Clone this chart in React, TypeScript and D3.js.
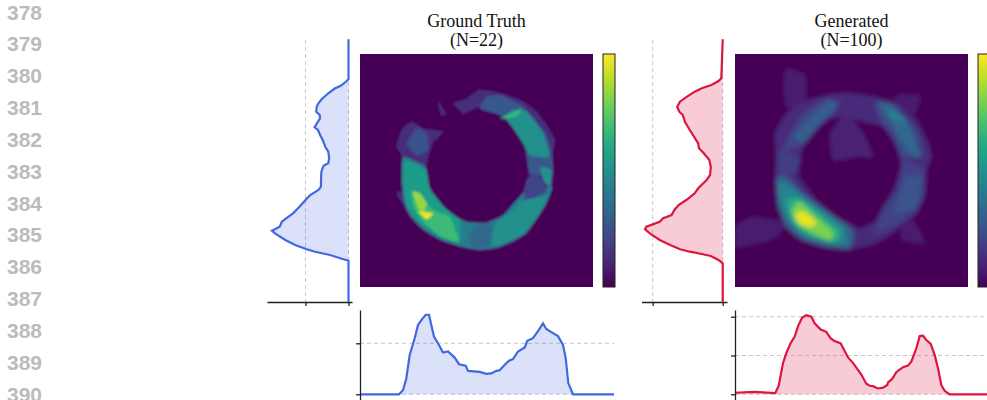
import React, { useEffect, useRef } from "react";
import * as d3 from "d3";

const W = 987;
const H = 400;

const rowLabels = [378, 379, 380, 381, 382, 383, 384, 385, 386, 387, 388, 389, 390];

const titles = [
  ["Ground Truth", "(N=22)"],
  ["Generated", "(N=100)"],
];

// [row, mean intensity]
const gtRowProfile: [number, number][] = [
  [-14.7, 0], [25, 0], [27, 0.04], [32, 0.19], [34.3, 0.31], [39.3, 0.47], [45, 0.62], [49.3, 0.7],
  [52.7, 0.74], [57.7, 0.75], [61, 0.67], [64.3, 0.66], [67.7, 0.71], [73.3, 0.79], [76, 0.71], [81, 0.66],
  [86, 0.6], [92.7, 0.54], [97.7, 0.47], [104.3, 0.45], [109.3, 0.47], [111.7, 0.58], [117.7, 0.63], [126, 0.64],
  [132.7, 0.64], [136, 0.7], [141, 0.89], [146, 1.0], [152.7, 1.14], [159.3, 1.29], [164.3, 1.45], [167.7, 1.55],
  [172.7, 1.6], [176.7, 1.78], [179.3, 1.71], [186, 1.47], [191, 1.24], [195.3, 0.97], [197.7, 0.78], [201, 0.43],
  [204.3, 0.19], [206.7, 0], [247.7, 0],
];

const genRowProfile: [number, number][] = [
  [-14.7, 0], [6, 0.01], [24.3, 0.02], [27, 0.06], [31, 0.16], [34.3, 0.3], [37.7, 0.4], [42.7, 0.51],
  [47.7, 0.61], [52.7, 0.65], [57.7, 0.62], [61, 0.57], [67.7, 0.54], [76, 0.47], [82.7, 0.41], [89.3, 0.35],
  [94.3, 0.34], [99.3, 0.27], [106, 0.19], [112.7, 0.17], [121, 0.18], [126, 0.23], [134.3, 0.35], [139.3, 0.4],
  [146, 0.52], [151, 0.63], [156, 0.69], [161, 0.73], [164.3, 0.85], [167.7, 0.9], [172.7, 1.09], [175.3, 1.11],
  [179.3, 1.04], [186, 0.9], [191, 0.75], [195.3, 0.61], [197.7, 0.47], [200, 0.3], [202, 0.17], [206, 0.06],
  [209.3, 0], [247.7, 0],
];

// [column, mean intensity]
const gtColProfile: [number, number][] = [
  [0, 0], [39, 0], [43, 0.08], [46.3, 0.31], [49.7, 0.77], [54.7, 1.1], [58, 1.36], [62.3, 1.48],
  [65.7, 1.56], [69, 1.56], [71.3, 1.36], [74, 1.13], [78, 1.0], [83, 0.82], [88, 0.84], [94.7, 0.72],
  [99, 0.59], [105.7, 0.56], [108, 0.46], [119.7, 0.44], [126.3, 0.4], [131.3, 0.41], [136.3, 0.46], [139.7, 0.47],
  [144.7, 0.58], [149, 0.66], [153, 0.69], [158, 0.84], [164.7, 0.92], [167.3, 1.05], [173, 1.1], [178, 1.24],
  [183, 1.39], [186.3, 1.28], [191.3, 1.22], [198, 1.14], [203, 0.97], [205.7, 0.71], [208.3, 0.22], [213, 0],
  [254, 0],
];

const genColProfile: [number, number][] = [
  [0, 0.04], [19.7, 0.06], [40.3, 0.03], [43.7, 0.22], [48, 0.8], [51.3, 1.06], [55.7, 1.32], [59.7, 1.49],
  [63, 1.75], [67, 1.97], [71.3, 2.04], [76.3, 2.0], [79.7, 1.83], [85.7, 1.67], [91.3, 1.61], [95.7, 1.44],
  [99, 1.38], [105.7, 1.31], [113, 0.95], [118, 0.81], [126.3, 0.51], [131.3, 0.27], [134.7, 0.22], [138, 0.21],
  [143, 0.15], [148, 0.17], [152.3, 0.24], [153, 0.31], [157, 0.39], [161.3, 0.57], [168, 0.7], [173, 0.74],
  [176.3, 0.84], [181.3, 1.18], [184.7, 1.5], [188, 1.51], [191.3, 1.4], [195.7, 1.3], [199.7, 1.01], [203, 0.67],
  [206.3, 0.24], [209.7, 0.09], [214.7, 0], [254, 0],
];

// ground truth density: stacked flat regions, [level, outline]
const gtRegions: [number, number[][]][] = [
  [0.13, [[655, 270], [690, 272], [740, 285], [790, 305], [830, 335], [860, 375], [885, 420], [878, 460], [880, 530], [875, 570], [860, 610], [830, 660], [800, 700], [760, 725], [710, 745], [660, 750], [600, 740], [540, 720], [490, 690], [450, 650], [415, 590], [412, 575], [430, 570], [428, 500], [425, 465], [410, 440], [425, 390], [455, 365], [490, 385], [550, 395], [520, 425], [505, 470], [497, 510], [505, 555], [530, 600], [570, 640], [620, 665], [680, 665], [730, 645], [770, 610], [790, 570], [805, 530], [808, 490], [795, 440], [770, 390], [730, 340], [690, 320], [650, 322], [610, 340], [580, 310], [620, 295]]],
  [0.13, [[535, 298], [545, 320], [560, 340], [545, 345], [538, 325]]],
  [0.27, [[660, 325], [680, 290], [720, 285], [790, 320], [850, 390], [872, 440], [878, 520], [810, 520], [795, 440], [760, 380], [720, 345]]],
  [0.25, [[470, 385], [500, 400], [505, 450], [470, 465], [440, 430]]],
  [0.42, [[430, 470], [497, 500], [510, 565], [570, 640], [620, 665], [680, 668], [730, 645], [790, 580], [875, 560], [858, 610], [830, 655], [798, 698], [758, 722], [710, 742], [660, 748], [600, 738], [540, 717], [490, 687], [452, 648], [432, 600], [425, 540]]],
  [0.5, [[735, 350], [760, 330], [800, 335], [850, 400], [868, 470], [810, 465], [790, 430], [760, 385]]],
  [0.33, [[660, 670], [695, 672], [690, 735], [640, 745], [625, 705]]],
  [0.2, [[800, 540], [830, 520], [862, 570], [830, 590], [792, 600]]],
  [0.55, [[435, 480], [495, 510], [510, 570], [550, 620], [600, 660], [598, 725], [540, 710], [480, 670], [440, 620], [430, 550]]],
  [0.5, [[700, 690], [710, 665], [750, 640], [790, 600], [860, 590], [838, 640], [790, 700], [730, 730], [695, 735]]],
  [0.5, [[840, 500], [875, 510], [870, 560], [850, 540]]],
  [0.68, [[455, 575], [480, 580], [510, 620], [540, 640], [570, 650], [598, 725], [545, 710], [490, 665], [460, 620]]],
  [0.66, [[720, 355], [785, 325], [770, 350]]],
  [0.84, [[458, 575], [480, 580], [500, 610], [490, 635], [475, 625]]],
  [0.98, [[475, 633], [520, 640], [500, 657]]],
];

// generated density: stray shapes, the ring body, then brighter patches on top
const genRegions: [number, number[][]][] = [
  [0.08, [[470, 205], [525, 225], [530, 300], [520, 340], [470, 320], [460, 250]]],
  [0.08, [[318, 675], [370, 650], [440, 660], [470, 670], [440, 710], [400, 725], [318, 740]]],
  [0.08, [[810, 680], [850, 660], [885, 730], [820, 720]]],
  [0.09, [[600, 400], [650, 340], [700, 400], [730, 470], [680, 470], [610, 480]]],
  [0.08, [[790, 290], [870, 285], [860, 330], [830, 360]]],
  [0.12, [[600, 285], [660, 280], [730, 290], [800, 310], [860, 360], [890, 420], [905, 470], [885, 520], [885, 580], [860, 640], [810, 680], [770, 710], [720, 735], [660, 745], [590, 740], [520, 720], [470, 680], [445, 620], [435, 550], [440, 470], [435, 400], [470, 340], [520, 305], [600, 285], [600, 350], [555, 395], [520, 440], [510, 470], [500, 520], [560, 600], [620, 650], [690, 685], [740, 660], [770, 610], [795, 560], [815, 500], [800, 440], [760, 380], [700, 365], [650, 350], [600, 350]]],
  [0.2, [[480, 400], [520, 340], [580, 300], [630, 300], [610, 345], [560, 380], [510, 440], [460, 450]]],
  [0.18, [[445, 450], [510, 470], [500, 520], [445, 520]]],
  [0.22, [[735, 305], [790, 310], [860, 390], [880, 470], [815, 470], [790, 410], [750, 360]]],
  [0.19, [[820, 480], [885, 510], [880, 590], [850, 640], [790, 680], [730, 700], [760, 620], [800, 570]]],
  [0.29, [[490, 410], [540, 350], [600, 300], [620, 320], [570, 370], [520, 430]]],
  [0.33, [[745, 310], [790, 320], [840, 380], [870, 470], [830, 450], [790, 380]]],
  [0.44, [[770, 330], [810, 345], [830, 365], [790, 360]]],
  [0.26, [[830, 530], [875, 530], [860, 620], [790, 640]]],
  [0.32, [[440, 530], [470, 530], [520, 580], [600, 640], [670, 690], [660, 745], [590, 740], [520, 720], [470, 680], [445, 620]]],
  [0.45, [[445, 545], [480, 560], [560, 620], [640, 680], [650, 730], [590, 730], [520, 705], [475, 660], [450, 610]]],
  [0.62, [[470, 600], [510, 595], [570, 640], [630, 690], [620, 725], [560, 715], [510, 690], [480, 650]]],
  [0.8, [[485, 630], [510, 605], [560, 650], [610, 695], [600, 722], [550, 700], [500, 670]]],
  [0.97, [[497, 640], [525, 635], [560, 670], [535, 680], [505, 665]]],
];

const colorLevels = [0, 0.1, 0.2, 0.3, 0.4, 0.5, 0.6, 0.7, 0.8, 0.9, 1];

const BLUE = "#4169e1";
const RED = "#dc143c";

export default function App() {
  const svgRef = useRef<SVGSVGElement>(null);

  useEffect(() => {
    const svg = d3.select(svgRef.current);
    svg.selectAll("*").remove();

    const defs = svg.append("defs");
    const grad = defs
      .append("linearGradient")
      .attr("id", "viridis-bar")
      .attr("x1", 0)
      .attr("x2", 0)
      .attr("y1", 1)
      .attr("y2", 0);
    colorLevels.forEach((l) => {
      grad.append("stop").attr("offset", l).attr("stop-color", d3.interpolateViridis(l));
    });
    defs.append("filter").attr("id", "soft-a").append("feGaussianBlur").attr("stdDeviation", 0.8);
    defs.append("filter").attr("id", "soft-b").append("feGaussianBlur").attr("stdDeviation", 2);
    defs.append("filter").attr("id", "soft-line").append("feGaussianBlur").attr("stdDeviation", 0.35);

    // row labels on the far left
    const labelY = d3.scaleLinear().domain([378, 390]).range([19.5, 401.5]);
    svg
      .append("g")
      .selectAll("text")
      .data(rowLabels)
      .join("text")
      .attr("x", 7)
      .attr("y", (d) => labelY(d))
      .attr("font-family", "Liberation Sans")
      .attr("font-weight", "bold")
      .attr("font-size", 21)
      .attr("fill", "#bbbbbb")
      .text((d) => d);

    const panels = [
      {
        key: "gt",
        title: titles[0],
        color: BLUE,
        heatLeft: 360,
        srcLeft: 300,
        rowProfile: gtRowProfile,
        colProfile: gtColProfile,
        sideZero: 348.5,
        sideOne: 305.5,
        sideFrom: 267,
        sideTo: 352,
        colMax: 1,
        colTop: 343.3,
        regions: gtRegions,
        filter: "soft-a",
      },
      {
        key: "gen",
        title: titles[1],
        color: RED,
        heatLeft: 735,
        srcLeft: 315,
        rowProfile: genRowProfile,
        colProfile: genColProfile,
        sideZero: 722.7,
        sideOne: 652.7,
        sideFrom: 641.5,
        sideTo: 727,
        colMax: 2,
        colTop: 316.7,
        regions: genRegions,
        filter: "soft-b",
      },
    ];

    panels.forEach((p) => {
      const g = svg.append("g");
      const heatW = 233;
      const top = 54;
      const bottom = 287;
      const cx = p.heatLeft + heatW / 2;

      g.selectAll("text.title")
        .data(p.title)
        .join("text")
        .attr("class", "title")
        .attr("x", cx)
        .attr("y", (d, i) => 26.7 + i * 19)
        .attr("text-anchor", "middle")
        .attr("font-family", "Liberation Serif")
        .attr("font-size", 18)
        .attr("fill", "#111")
        .text((d) => d);

      // heatmap
      const sx = d3.scaleLinear().domain([p.srcLeft, p.srcLeft + 699]).range([p.heatLeft, p.heatLeft + heatW]);
      const sy = d3.scaleLinear().domain([162, 860]).range([top, bottom]);
      const clipId = `clip-${p.key}`;
      defs
        .append("clipPath")
        .attr("id", clipId)
        .append("rect")
        .attr("x", p.heatLeft)
        .attr("y", top)
        .attr("width", heatW)
        .attr("height", bottom - top);
      const heat = g.append("g").attr("clip-path", `url(#${clipId})`).append("g").attr("filter", `url(#${p.filter})`);
      heat
        .append("rect")
        .attr("x", p.heatLeft - 10)
        .attr("y", top - 10)
        .attr("width", heatW + 20)
        .attr("height", bottom - top + 20)
        .attr("fill", d3.interpolateViridis(0));
      const poly = d3
        .line<number[]>()
        .x((d) => sx(d[0]))
        .y((d) => sy(d[1]))
        .curve(d3.curveCardinalClosed.tension(0.6));
      heat
        .selectAll("path.region")
        .data(p.regions)
        .join("path")
        .attr("class", "region")
        .attr("d", (d) => poly(d[1]))
        .attr("fill", (d) => d3.interpolateViridis(d[0]));

      // colorbar
      g.append("rect")
        .attr("x", p.heatLeft + heatW + 10)
        .attr("y", top)
        .attr("width", 12)
        .attr("height", bottom - top)
        .attr("fill", "url(#viridis-bar)")
        .attr("stroke", "#222")
        .attr("stroke-width", 1);

      const lines = g.append("g").attr("filter", "url(#soft-line)");

      // side profile
      const sideX = d3.scaleLinear().domain([0, 1]).range([p.sideZero, p.sideOne]);
      const rowY = d3.scaleLinear().domain([0, 233]).range([top, bottom]);
      const axisY = 302;
      [0, 1].forEach((v) => {
        lines
          .append("line")
          .attr("x1", sideX(v))
          .attr("x2", sideX(v))
          .attr("y1", 40)
          .attr("y2", axisY)
          .attr("stroke", "#c8c8c8")
          .attr("stroke-dasharray", "4 3");
      });
      const sideArea = d3
        .area<[number, number]>()
        .y((d) => rowY(d[0]))
        .x0(sideX(0))
        .x1((d) => sideX(d[1]));
      lines.append("path").attr("d", sideArea(p.rowProfile)).attr("fill", p.color).attr("fill-opacity", 0.2);
      const sideLine = d3
        .line<[number, number]>()
        .x((d) => sideX(d[1]))
        .y((d) => rowY(d[0]));
      lines
        .append("path")
        .attr("d", sideLine(p.rowProfile))
        .attr("fill", "none")
        .attr("stroke", p.color)
        .attr("stroke-width", 2.2);
      const sideAxisScale = d3
        .scaleLinear()
        .domain([sideX.invert(p.sideFrom), sideX.invert(p.sideTo)])
        .range([p.sideFrom, p.sideTo]);
      lines
        .append("g")
        .attr("transform", `translate(0,${axisY})`)
        .call(
          d3
            .axisBottom(sideAxisScale)
            .tickValues([0, 1])
            .tickSize(4)
            .tickSizeOuter(0)
            .tickFormat(() => "")
        )
        .call((a) => a.selectAll("path,line").attr("stroke", "#222").attr("stroke-width", 1.3));

      // bottom profile
      const colX = d3.scaleLinear().domain([0, 233]).range([p.heatLeft, p.heatLeft + heatW]);
      const colY = d3.scaleLinear().domain([0, p.colMax]).range([394.3, p.colTop]);
      const colTicks = d3.range(0, p.colMax + 1);
      colTicks.forEach((v) => {
        lines
          .append("line")
          .attr("x1", p.heatLeft)
          .attr("x2", colX(254))
          .attr("y1", colY(v))
          .attr("y2", colY(v))
          .attr("stroke", "#c8c8c8")
          .attr("stroke-dasharray", "4 3");
      });
      const colArea = d3
        .area<[number, number]>()
        .x((d) => colX(d[0]))
        .y0(colY(0))
        .y1((d) => colY(d[1]));
      lines.append("path").attr("d", colArea(p.colProfile)).attr("fill", p.color).attr("fill-opacity", 0.2);
      const colLine = d3
        .line<[number, number]>()
        .x((d) => colX(d[0]))
        .y((d) => colY(d[1]));
      lines
        .append("path")
        .attr("d", colLine(p.colProfile))
        .attr("fill", "none")
        .attr("stroke", p.color)
        .attr("stroke-width", 2.2);
      const colAxisScale = d3
        .scaleLinear()
        .domain([colY.invert(399.5), colY.invert(310)])
        .range([399.5, 310]);
      lines
        .append("g")
        .attr("transform", `translate(${p.heatLeft},0)`)
        .call(
          d3
            .axisLeft(colAxisScale)
            .tickValues(colTicks)
            .tickSize(4)
            .tickSizeOuter(0)
            .tickFormat(() => "")
        )
        .call((a) => a.selectAll("path,line").attr("stroke", "#222").attr("stroke-width", 1.3));
    });
  }, []);

  return (
    <svg
      ref={svgRef}
      width={W}
      height={H}
      style={{ position: "absolute", left: 0, top: 0, background: "#fff" }}
    />
  );
}
